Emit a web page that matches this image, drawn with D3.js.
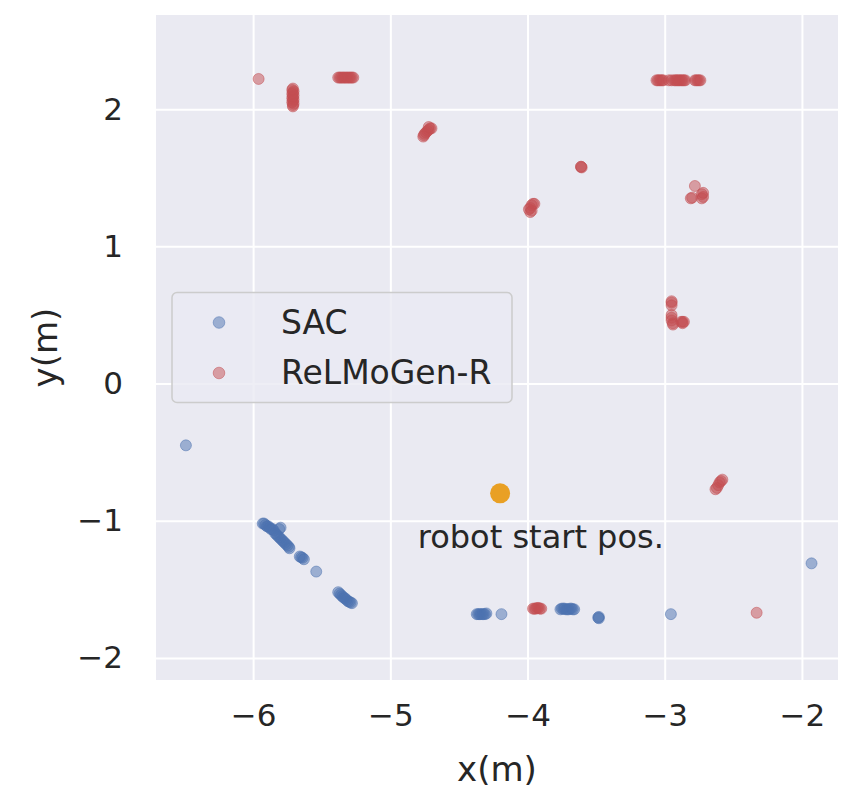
<!DOCTYPE html>
<html><head><meta charset="utf-8">
<script src="https://cdn.jsdelivr.net/npm/d3@7"></script>
<style>body{margin:0;background:#fff;} text{font-family:"DejaVu Sans",sans-serif;fill:#262626;}</style>
</head><body>
<svg id="c" width="842" height="791"></svg>
<script>
const sacX = [-6.49,
 -5.93,-5.92,-5.91,-5.90,-5.89,-5.88,-5.87,-5.86,-5.85,-5.80,-5.81,-5.84,-5.83,-5.82,-5.81,-5.80,-5.79,-5.78,-5.77,-5.76,-5.75,-5.74,-5.735,
 -5.66,-5.65,-5.64,-5.63,
 -5.54,
 -5.38,-5.37,-5.36,-5.35,-5.34,-5.33,-5.32,-5.31,-5.30,-5.29,-5.28,
 -4.37,-4.36,-4.35,-4.34,-4.33,-4.32,-4.31,-4.30,
 -4.19,
 -3.76,-3.75,-3.74,-3.73,-3.72,-3.71,-3.70,-3.69,-3.68,-3.67,-3.66,
 -3.48,-3.48,-3.485,
 -2.955,
 -1.93];
const sacY = [-0.45,
 -1.02,-1.02,-1.03,-1.04,-1.04,-1.05,-1.06,-1.06,-1.07,-1.05,-1.06,-1.09,-1.10,-1.11,-1.12,-1.13,-1.14,-1.15,-1.16,-1.17,-1.18,-1.19,-1.20,
 -1.26,-1.265,-1.27,-1.28,
 -1.37,
 -1.52,-1.53,-1.54,-1.55,-1.56,-1.565,-1.575,-1.585,-1.59,-1.595,-1.60,
 -1.68,-1.68,-1.68,-1.68,-1.68,-1.68,-1.68,-1.675,
 -1.68,
 -1.645,-1.64,-1.64,-1.64,-1.645,-1.645,-1.645,-1.64,-1.64,-1.645,-1.645,
 -1.70,-1.71,-1.705,
 -1.68,
 -1.31];
const relX = [-5.96,
 -5.71,-5.715,-5.705,-5.71,-5.715,-5.705,-5.71,-5.715,-5.705,-5.71,-5.715,-5.705,-5.71,-5.71,
 -5.38,-5.37,-5.36,-5.35,-5.34,-5.33,-5.32,-5.31,-5.30,-5.29,-5.28,-5.27,
 -4.76,-4.755,-4.75,-4.74,-4.73,-4.72,-4.71,-4.70,-4.72,
 -3.99,-3.98,-3.97,-3.96,-3.95,-3.98,-3.97,
 -3.61,-3.61,-3.605,
 -3.06,-3.05,-3.04,-3.03,-3.02,-3.01,-2.97,-2.95,-2.93,-2.92,-2.91,-2.90,-2.89,-2.88,-2.87,-2.86,-2.85,-2.78,-2.77,-2.76,-2.75,-2.74,
 -2.78,-2.81,-2.80,-2.73,-2.72,-2.72,-2.73,
 -2.95,-2.95,-2.95,-2.95,-2.95,-2.95,-2.94,-2.94,-2.88,-2.87,-2.86,-2.87,
 -2.63,-2.62,-2.61,-2.60,-2.59,-2.58,
 -3.96,-3.95,-3.94,-3.93,-3.92,-3.91,-3.90,
 -2.33];
const relY = [2.22,
 2.15,2.14,2.13,2.12,2.11,2.10,2.09,2.08,2.07,2.06,2.05,2.04,2.03,2.02,
 2.23,2.23,2.23,2.23,2.23,2.23,2.23,2.23,2.23,2.23,2.23,2.23,
 1.80,1.81,1.82,1.83,1.84,1.85,1.86,1.86,1.87,
 1.27,1.28,1.30,1.31,1.31,1.25,1.26,
 1.58,1.58,1.575,
 2.21,2.21,2.21,2.21,2.21,2.21,2.21,2.21,2.21,2.21,2.21,2.21,2.21,2.21,2.21,2.21,2.21,2.21,2.21,2.21,2.21,2.21,
 1.44,1.35,1.355,1.35,1.36,1.39,1.38,
 0.60,0.59,0.57,0.50,0.48,0.46,0.44,0.43,0.45,0.45,0.45,0.44,
 -0.77,-0.76,-0.74,-0.72,-0.71,-0.70,
 -1.64,-1.64,-1.64,-1.635,-1.635,-1.64,-1.64,
 -1.67];
const startPos = [-4.2, -0.8];
const startLabel = "robot start pos.";
const startLabelPos = [-4.8, -1.2];
const seriesNames = ["SAC", "ReLMoGen-R"];
const xTicks = [-6,-5,-4,-3,-2];
const yTicks = [-2,-1,0,1,2];
const xLabel = "x(m)", yLabel = "y(m)";

const colors = ["#4c72b0", "#c44e52"];
const W = 842, H = 791;
const m = {l:156, r:4, t:15, b:111};
const svg = d3.select("#c");
const x = d3.scaleLinear().domain([-6.708, -1.737]).range([m.l, W - m.r]);
const y = d3.scaleLinear().domain([-2.16, 2.686]).range([H - m.b, m.t]);

svg.append("rect").attr("x", m.l).attr("y", m.t).attr("width", W - m.r - m.l).attr("height", H - m.b - m.t).attr("fill", "#eaeaf2");

const gx = svg.append("g").attr("transform", `translate(0,${H - m.b})`)
  .call(d3.axisBottom(x).tickValues(xTicks).tickSize(-(H - m.b - m.t)).tickPadding(24).tickFormat(d => d3.format("d")(d).replace("-", "\u2212")));
const gy = svg.append("g").attr("transform", `translate(${m.l},0)`)
  .call(d3.axisLeft(y).tickValues(yTicks).tickSize(-(W - m.r - m.l)).tickPadding(33).tickFormat(d => d3.format("d")(d).replace("-", "\u2212")));
[gx, gy].forEach(g => {
  g.select(".domain").remove();
  g.selectAll(".tick line").attr("stroke", "#ffffff").attr("stroke-width", 2);
  g.selectAll(".tick text").attr("font-size", 31).attr("fill", "#262626").style("font-family", "DejaVu Sans");
});

const plot = svg.append("g");
function scatter(xs, ys, c) {
  plot.selectAll(null).data(xs.map((v, i) => [v, ys[i]])).enter().append("circle")
    .attr("cx", d => x(d[0])).attr("cy", d => y(d[1])).attr("r", 5.5)
    .attr("fill", c).attr("fill-opacity", 0.5)
    .attr("stroke", c).attr("stroke-opacity", 0.5).attr("stroke-width", 1);
}
scatter(sacX, sacY, colors[0]);
scatter(relX, relY, colors[1]);

svg.append("circle").attr("cx", x(startPos[0])).attr("cy", y(startPos[1])).attr("r", 10).attr("fill", "#e9a024");
svg.append("text").attr("x", x(startLabelPos[0])).attr("y", y(startLabelPos[1])).attr("font-size", 32).text(startLabel);

// legend
const lg = svg.append("g");
lg.append("rect").attr("x", 172).attr("y", 292.5).attr("width", 340).attr("height", 110).attr("rx", 5)
  .attr("fill", "#eaeaf2").attr("fill-opacity", 0.8).attr("stroke", "#cccccc").attr("stroke-width", 1.5);
seriesNames.forEach((n, i) => {
  const cy = 322.5 + i * 50.5;
  lg.append("circle").attr("cx", 219).attr("cy", cy).attr("r", 5.8)
    .attr("fill", colors[i]).attr("fill-opacity", 0.5).attr("stroke", colors[i]).attr("stroke-opacity", 0.5).attr("stroke-width", 1);
  lg.append("text").attr("x", 281).attr("y", cy + 11).attr("font-size", 33).text(n);
});

svg.append("text").attr("x", (m.l + W - m.r) / 2).attr("y", 781).attr("text-anchor", "middle").attr("font-size", 34).text(xLabel);
svg.append("text").attr("transform", `translate(57,${(m.t + H - m.b) / 2}) rotate(-90)`).attr("text-anchor", "middle").attr("font-size", 34).text(yLabel);
</script>
</body></html>
